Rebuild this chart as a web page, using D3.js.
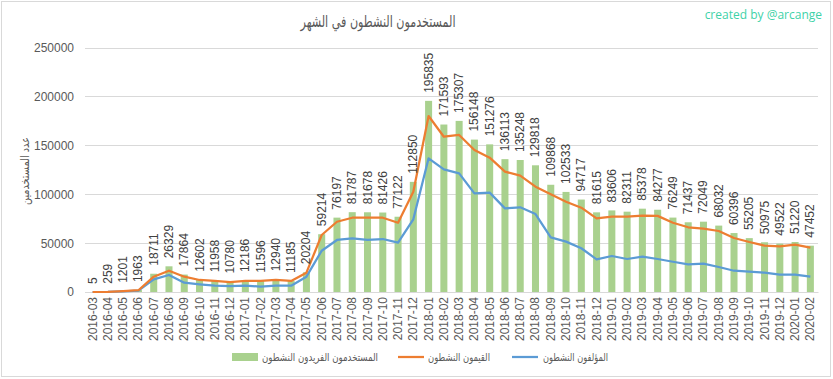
<!DOCTYPE html>
<html><head><meta charset="utf-8">
<script src="https://cdn.jsdelivr.net/npm/d3@7"></script>
<style>body{margin:0;background:#fff}svg{display:block}</style>
</head><body>
<svg id="c" width="833" height="379"></svg>
<script>
const months = ["2016-03","2016-04","2016-05","2016-06","2016-07","2016-08","2016-09","2016-10","2016-11","2016-12",
"2017-01","2017-02","2017-03","2017-04","2017-05","2017-06","2017-07","2017-08","2017-09","2017-10","2017-11","2017-12",
"2018-01","2018-02","2018-03","2018-04","2018-05","2018-06","2018-07","2018-08","2018-09","2018-10","2018-11","2018-12",
"2019-01","2019-02","2019-03","2019-04","2019-05","2019-06","2019-07","2019-08","2019-09","2019-10","2019-11","2019-12",
"2020-01","2020-02"];
const uniqueUsers = [5,259,1201,1963,18711,26329,17864,12602,11958,10780,12186,11596,12940,11185,20204,59214,76197,81787,81678,81426,77122,112850,195835,171593,175307,156148,151276,136113,135248,129818,109868,102533,94717,81615,83606,82311,85378,84277,76249,71437,72049,68032,60396,55205,50975,49522,51220,47452];
const curators = [0,200,1000,1800,15700,21800,15700,12300,11300,10200,11300,11300,12300,11300,19800,58400,72000,76100,76100,76100,71000,102800,180300,159100,160900,145500,137600,123300,119200,107900,100100,92500,86400,75500,77200,77200,78200,78000,71000,66300,64900,62500,55300,51200,47500,46800,48500,45400];
const authors = [0,150,700,1500,13000,17400,9500,7900,6500,6100,6500,5500,6500,6500,15700,42300,53300,55000,53300,54300,50500,74500,137000,125700,121600,101100,101800,85700,86800,79900,56000,51600,44800,33500,36900,33800,36200,33800,31000,28400,29000,25600,21800,20800,19800,17700,17700,15700];
const yTicks = [0,50000,100000,150000,200000,250000];
const seriesNames = ["المستخدمون الفريدون النشطون","القيمون النشطون","المؤلفون النشطون"];
const colors = ["#a9d18e","#ed7d31","#5b9bd5"];
const title = "المستخدمون النشطون في الشهر";
const yTitle = "عدد المستخدمين";
const credit = "created by @arcange";

const svg = d3.select("#c");
const font = "'Liberation Sans', Arial, sans-serif";
const afont = "'DejaVu Sans', sans-serif";
svg.append("rect").attr("x",1.5).attr("y",1.5).attr("width",829).attr("height",375)
  .attr("fill","#fff").attr("stroke","#d9d9d9");

const L=85,R=818,T=48,B=292;
const x = d3.scaleBand().domain(months).range([L,R]).paddingInner(0.54).paddingOuter(0.27);
const y = d3.scaleLinear().domain([0,250000]).range([B,T]);

// grid
svg.append("g").selectAll("line").data(yTicks).join("line")
  .attr("x1",L).attr("x2",R).attr("y1",d=>y(d)).attr("y2",d=>y(d))
  .attr("stroke","#d9d9d9").attr("stroke-width",1).attr("shape-rendering","crispEdges");

// y axis
const ya = svg.append("g").attr("transform",`translate(${L},0)`)
  .call(d3.axisLeft(y).tickValues(yTicks).tickSize(0).tickPadding(11).tickFormat(d3.format("d")));
ya.select(".domain").remove();
ya.selectAll("text").attr("fill","#595959").style("font-family",font).style("font-size","12px");

// x axis
const xa = svg.append("g").attr("transform",`translate(0,${B})`)
  .call(d3.axisBottom(x).tickSize(0).tickPadding(0));
xa.select(".domain").attr("stroke","#d9d9d9");
xa.selectAll("text").attr("fill","#595959").style("font-family",font).style("font-size","12px")
  .attr("text-anchor","end").attr("dy",null).attr("dominant-baseline","central")
  .attr("transform","translate(0,5) rotate(-90)").attr("y",0).attr("x",0);

// bars
svg.append("g").selectAll("rect").data(uniqueUsers).join("rect")
  .attr("x",(d,i)=>x(months[i])).attr("width",x.bandwidth())
  .attr("y",d=>y(d)).attr("height",d=>B-y(d)).attr("fill",colors[0]);

// lines
const line = d3.line().x((d,i)=>x(months[i])+x.bandwidth()/2).y(d=>y(d));
svg.append("path").datum(authors).attr("d",line).attr("fill","none").attr("stroke",colors[2]).attr("stroke-width",2.25).attr("stroke-linejoin","round");
svg.append("path").datum(curators).attr("d",line).attr("fill","none").attr("stroke",colors[1]).attr("stroke-width",2.25).attr("stroke-linejoin","round");

// data labels
svg.append("g").selectAll("text").data(uniqueUsers).join("text")
  .attr("transform",(d,i)=>`translate(${x(months[i])+x.bandwidth()/2},${y(d)-8}) rotate(-90)`)
  .attr("dominant-baseline","central").attr("text-anchor","start")
  .attr("fill","#404040").style("font-family",font).style("font-size","12px")
  .text(d=>d);

// title
svg.append("text").attr("x",378).attr("y",27).attr("text-anchor","middle")
  .attr("fill","#595959").style("font-family",afont).style("font-size","16px")
  .attr("textLength",155).attr("lengthAdjust","spacingAndGlyphs").text(title);
svg.append("text").attr("x",822).attr("y",19).attr("text-anchor","end")
  .attr("fill","#3ed2a8").style("font-family","'Open Sans', sans-serif").style("font-size","12px").text(credit);

// y title
svg.append("text").attr("transform","translate(25,171) rotate(-90)").attr("text-anchor","middle")
  .attr("dominant-baseline","central").attr("fill","#595959")
  .style("font-family",afont).style("font-size","12px")
  .attr("textLength",68).attr("lengthAdjust","spacingAndGlyphs").text(yTitle);

// legend
const legSwatch = [232,398,512];
const legTextEnd = [378,490,608];
const legTextLen = [116,62,65];
const lg = svg.append("g");
seriesNames.forEach((n,i)=>{
  if(i===0) lg.append("rect").attr("x",legSwatch[i]).attr("y",353).attr("width",26).attr("height",8).attr("fill",colors[0]);
  else lg.append("line").attr("x1",legSwatch[i]).attr("x2",legSwatch[i]+26).attr("y1",357).attr("y2",357).attr("stroke",colors[i]).attr("stroke-width",2.25);
  lg.append("text").attr("x",legTextEnd[i]-legTextLen[i]).attr("y",357).attr("dominant-baseline","central")
    .attr("fill","#595959").style("font-family",afont).style("font-size","11px")
    .attr("textLength",legTextLen[i]).attr("lengthAdjust","spacingAndGlyphs").text(n);
});
</script>
</body></html>
